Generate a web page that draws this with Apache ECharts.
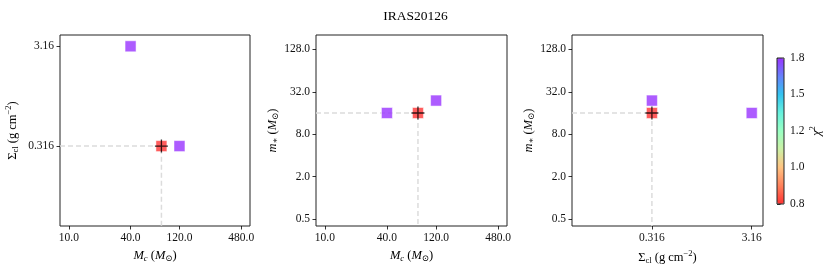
<!DOCTYPE html>
<html>
<head>
<meta charset="utf-8">
<script src="https://cdn.jsdelivr.net/npm/echarts@6/dist/echarts.min.js"></script>
<style>html,body{margin:0;padding:0;background:#fff}#c{width:831px;height:271px}</style>
</head>
<body>
<div id="c"></div>
<script>
// ---- data (one entry per model) ----
const mcValues = [80, 40, 120];          // M_c (M_sun)
const sigmaValues = [0.316, 3.16, 0.316]; // Sigma_cl (g cm^-2)
const mstarValues = [16, 16, 24];        // m_* (M_sun)
const chi2Values = [0.8, 1.8, 1.8];      // chi^2

// ---- ticks ----
const mcTicks = [10, 40, 120, 480];
const sigmaTicks = [0.316, 3.16];
const mstarTicks = [0.5, 2, 8, 32, 128];
const chiTicks = [0.8, 0.98, 1.2, 1.47, 1.8];

// ---- axis ranges ----
const mcRange = [8.2, 585];
const sigmaRange = [0.05, 4.1];
const mstarRange = [0.40, 204];
const chiRange = [0.8, 1.8];

const FONT = '"Liberation Serif", "DejaVu Serif", serif';
const rainbowR = ['rgb(255,51,51)','rgb(255,129,91)','rgb(255,195,129)','rgb(204,240,165)',
  'rgb(153,255,195)','rgb(102,240,221)','rgb(51,195,240)','rgb(102,129,251)','rgb(153,51,255)'];

const rich = {
  i: {fontFamily: FONT, fontStyle: 'italic', fontSize: 12.5, color: '#000'},
  n: {fontFamily: FONT, fontSize: 12.5, color: '#000'},
  s: {fontFamily: FONT, fontSize: 8.5, color: '#000', padding: [6, 0, 0, 0]},
  si: {fontFamily: FONT, fontSize: 8.5, fontStyle: 'italic', color: '#000', padding: [6, 0, 0, 0]},
  p: {fontFamily: FONT, fontSize: 8.5, color: '#000', padding: [0, 0, 8, 0]}
};
const names = {
  mc: '{i|M}{si|c}{n| (}{i|M}{s|⊙}{n|)}',
  sigma: '{n|Σ}{s|cl}{n| (g cm}{p|−2}{n|)}',
  mstar: '{i|m}{s|∗}{n| (}{i|M}{s|⊙}{n|)}',
  chi: '{i|χ}{p|2}'
};

const fmt1 = v => Number(v).toFixed(1);
const fmtS = v => String(v);

function logAxis(gridIndex, range, ticks, fmt, name, nameGap) {
  return {
    type: 'log', logBase: 10, gridIndex, min: range[0], max: range[1],
    name, nameLocation: 'middle', nameGap,
    nameTextStyle: {fontFamily: FONT, fontSize: 12.5, color: '#000', rich},
    axisLine: {show: false},
    axisTick: {show: true, length: 3.5, customValues: ticks, lineStyle: {color: '#000', width: 0.8}},
    axisLabel: {show: true, customValues: ticks, formatter: fmt, fontFamily: FONT, fontSize: 11.5,
      color: '#111', margin: 6},
    minorTick: {show: false}, splitLine: {show: false}, minorSplitLine: {show: false}
  };
}

const grids = [
  {left: 60, top: 35, width: 190, height: 191},
  {left: 316, top: 35, width: 191, height: 191},
  {left: 572, top: 35, width: 191, height: 191}
].map(g => Object.assign(g, {show: true, borderColor: '#222', borderWidth: 1, backgroundColor: 'transparent', containLabel: false}));
grids.push({left: 777, top: 58, width: 7, height: 146, show: true, borderColor: '#222', borderWidth: 1,
  backgroundColor: 'transparent', z: 10});

const panels = [
  {x: mcValues, y: sigmaValues, xr: mcRange, yr: sigmaRange},
  {x: mcValues, y: mstarValues, xr: mcRange, yr: mstarRange},
  {x: sigmaValues, y: mstarValues, xr: sigmaRange, yr: mstarRange}
];

let best = 0;
chi2Values.forEach((c, i) => { if (c < chi2Values[best]) best = i; });

const xAxes = [
  logAxis(0, mcRange, mcTicks, fmt1, names.mc, 19),
  logAxis(1, mcRange, mcTicks, fmt1, names.mc, 19),
  logAxis(2, sigmaRange, sigmaTicks, fmtS, names.sigma, 19),
  {type: 'value', gridIndex: 3, show: false, min: 0, max: 1}
];
const yAxes = [
  logAxis(0, sigmaRange, sigmaTicks, fmtS, names.sigma, 39),
  logAxis(1, mstarRange, mstarTicks, fmt1, names.mstar, 36),
  logAxis(2, mstarRange, mstarTicks, fmt1, names.mstar, 35),
  Object.assign(logAxis(3, chiRange, chiTicks, fmt1, names.chi, 20), {position: 'right'})
];

const series = [];
const squareIdx = [];
panels.forEach((p, k) => {
  series.push({
    type: 'line', xAxisIndex: k, yAxisIndex: k, silent: true, showSymbol: false, z: 1,
    data: [[p.xr[0], p.y[best]], [p.x[best], p.y[best]], [p.x[best], p.yr[0]]],
    lineStyle: {color: '#dcdcdc', width: 1.5, type: [5, 3]}
  });
  squareIdx.push(series.length);
  series.push({
    type: 'scatter', xAxisIndex: k, yAxisIndex: k, symbol: 'rect', symbolSize: 11, z: 2,
    data: p.x.map((v, i) => [v, p.y[i], chi2Values[i]]),
    itemStyle: {borderColor: 'rgba(255,255,255,0.8)', borderWidth: 0.8}
  });
  series.push({
    type: 'scatter', xAxisIndex: k, yAxisIndex: k, z: 3, silent: true,
    symbol: 'path://M5.4,0H6.6V5.4H12V6.6H6.6V12H5.4V6.6H0V5.4H5.4Z', symbolSize: 13,
    data: [[p.x[best], p.y[best]]], itemStyle: {color: '#000'}
  });
});

const option = {
  animation: false,
  backgroundColor: '#fff',
  title: {text: 'IRAS20126', left: 'center', top: 4,
    textStyle: {fontFamily: FONT, fontSize: 13.5, fontWeight: 'normal', color: '#000'}},
  grid: grids, xAxis: xAxes, yAxis: yAxes, series,
  visualMap: {
    type: 'continuous', min: chiRange[0], max: chiRange[1], dimension: 2, seriesIndex: squareIdx,
    inRange: {color: rainbowR}, calculable: false, text: ['', ''], showLabel: false,
    left: 772, top: 53, itemWidth: 7, itemHeight: 146, padding: 5, itemGap: 0, hoverLink: false
  }
};

const chart = echarts.init(document.getElementById('c'), null, {renderer: 'canvas'});
chart.setOption(option);
</script>
</body>
</html>
